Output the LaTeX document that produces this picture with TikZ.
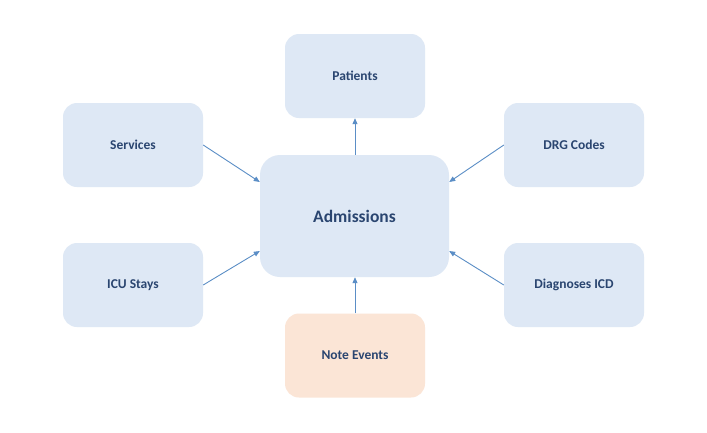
\documentclass[tikz,border=0pt]{standalone}
\usepackage{fontspec}
\setmainfont{Carlito}
\usetikzlibrary{arrows.meta}
\definecolor{boxblue}{HTML}{DEE8F5}
\definecolor{boxpeach}{HTML}{FBE5D6}
\definecolor{labelcol}{HTML}{2A4570}
\definecolor{linkcol}{HTML}{5B8EC6}
\tikzset{
  entity/.style={rounded corners=14pt, fill=boxblue, draw=none,
    minimum width=140pt, minimum height=84pt, font=\bfseries\fontsize{13.5}{16}\selectfont,
    text=labelcol, inner sep=0pt},
  hub/.style={entity, rounded corners=20pt, minimum width=189pt, minimum height=122pt,
    font=\bfseries\fontsize{17.5}{20}\selectfont},
  link/.style={draw=linkcol, line width=0.9pt, -{Triangle[length=6pt,width=5pt]}}
}
\begin{document}
\begin{tikzpicture}[x=1pt,y=-1pt]
  \useasboundingbox[fill=white] (0,0) rectangle (707,432);
  \node[hub] (adm) at (354.5,216) {\raisebox{-0.8pt}{Admissions}};
  \node[entity] (pat) at (355,76) {\raisebox{-0.8pt}{Patients}};
  \node[entity] (srv) at (133,145) {\raisebox{-0.8pt}{Services}};
  \node[entity] (drg) at (574,145) {\raisebox{-0.8pt}{DRG Codes}};
  \node[entity] (icu) at (133,285) {\raisebox{-0.8pt}{ICU Stays}};
  \node[entity] (dia) at (574,285) {\raisebox{-0.8pt}{Diagnoses ICD}};
  \node[entity, fill=boxpeach] (note) at (355,355.5) {\raisebox{-0.8pt}{Note Events}};
  \draw[link] (adm.north -| pat.south) -- (pat.south);
  \draw[link] (note.north) -- (note.north |- adm.south);
  \draw[link] (srv.east) -- (adm.west |- 0,182);
  \draw[link] (drg.west) -- (adm.east |- 0,182);
  \draw[link] (icu.east) -- (adm.west |- 0,251);
  \draw[link] (dia.west) -- (adm.east |- 0,251);
\end{tikzpicture}
\end{document}
